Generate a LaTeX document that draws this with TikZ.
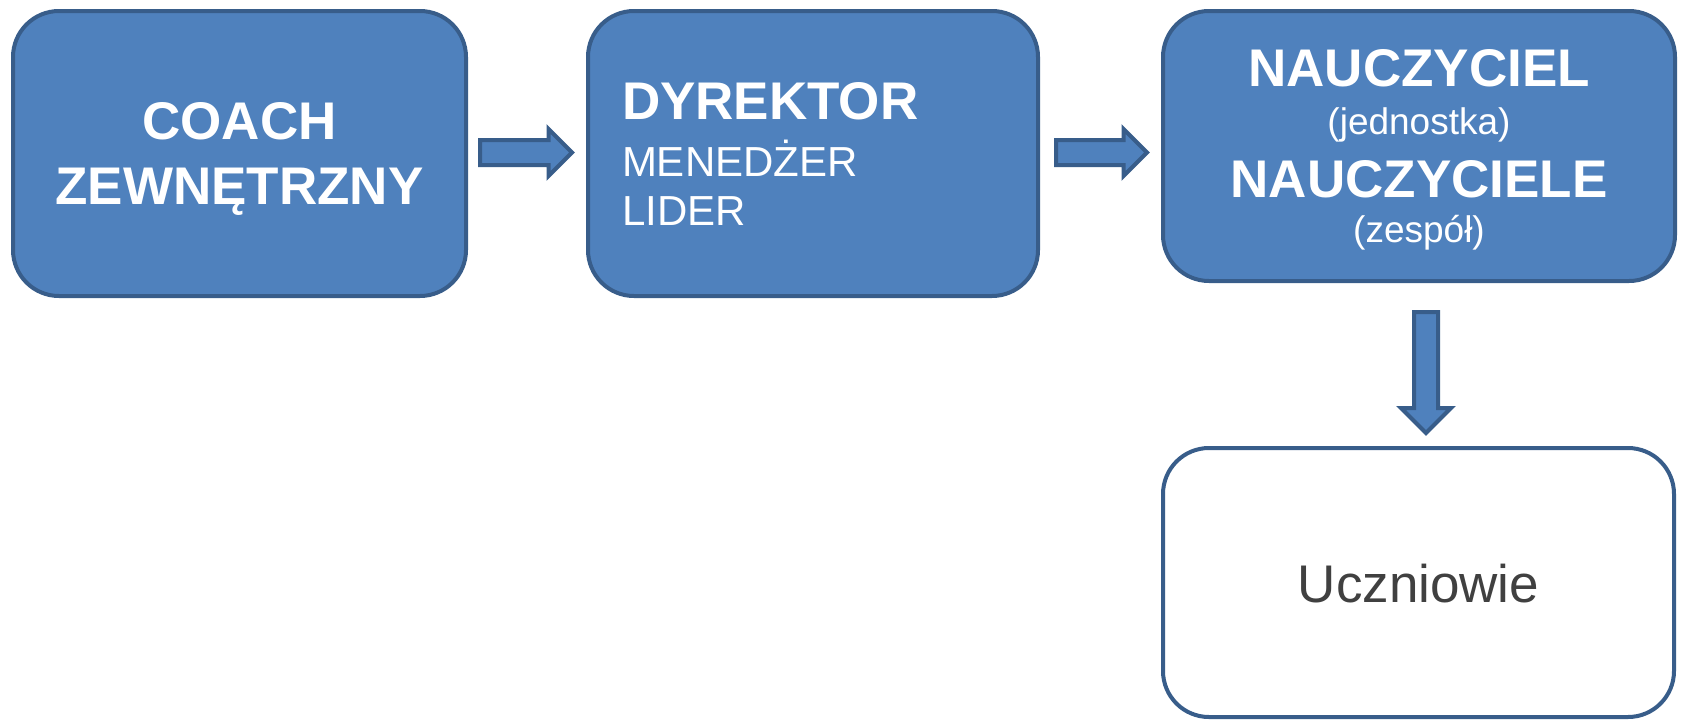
\documentclass[tikz,border=0pt]{standalone}
\usepackage{fontspec}
\setmainfont{Liberation Sans}
\usetikzlibrary{shapes.arrows,calc}
\definecolor{boxfill}{RGB}{79,129,189}
\definecolor{boxline}{RGB}{56,93,138}
\definecolor{txtgray}{RGB}{64,64,64}
\begin{document}
\begin{tikzpicture}[x=1pt,y=-1pt,
  box/.style={rectangle,rounded corners=46pt,draw=boxline,line width=4pt,fill=boxfill,text=white,inner sep=0pt},
  blockarrow/.style={single arrow,draw=boxline,line width=4pt,fill=boxfill,inner sep=10.5pt,single arrow head extend=11pt,single arrow tip angle=90,minimum height=92pt,anchor=tail}]
\useasboundingbox (0,0) rectangle (1682,721);
\node[box,minimum width=453pt,minimum height=285pt,align=center,text depth=0pt,font=\fontsize{53}{64.4}\selectfont\bfseries] (coach) at (239.5,153.5) {COACH\\ZEWNĘTRZNY};
\node[box,minimum width=450pt,minimum height=285pt,text width=382pt,align=left,font=\fontsize{42}{49}\selectfont] (dyr) at (813,153.5)
  {{\fontsize{53}{57}\selectfont\bfseries DYREKTOR}\\[8pt]MENEDŻER\\LIDER};
\node[box,minimum width=512pt,minimum height=270pt,align=center,text depth=0pt,font=\fontsize{37}{45}\selectfont] (nau) at (1419,146)
  {{\fontsize{53}{60}\selectfont\bfseries NAUCZYCIEL}\\[3pt](jednostka)\\[17.5pt]{\fontsize{53}{60}\selectfont\bfseries NAUCZYCIELE}\\(zespół)};
\node[box,fill=white,text=txtgray,minimum width=511pt,minimum height=269pt,text height=41pt,font=\fontsize{53}{64}\selectfont] (ucz) at (1418.5,582.5) {Uczniowie};
% strzalki
\node[blockarrow] (a1) at ($(coach.east)+(10,-1)$) {};
\node[blockarrow,minimum height=91pt] (a2) at ($(dyr.east)+(14,-1)$) {};
\node[blockarrow,rotate=-90,inner sep=10pt,single arrow head extend=13pt,minimum height=121pt] (a3) at ($(nau.south)+(7,27)$) {};
\end{tikzpicture}
\end{document}
